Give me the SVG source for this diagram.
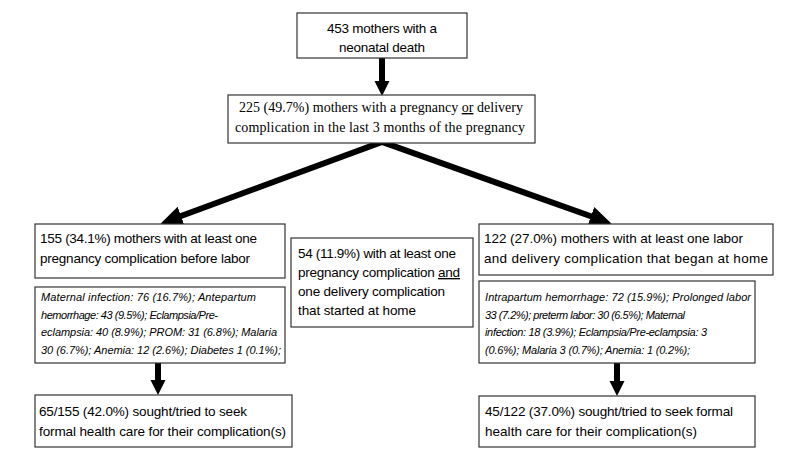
<svg xmlns="http://www.w3.org/2000/svg" width="788" height="462" viewBox="0 0 788 462">
<style>
.box{fill:#fff;stroke:#333;stroke-width:1.2}
.t{font-family:"Liberation Sans",Arial,sans-serif;font-size:13.5px;fill:#000}
.ti{font-family:"Liberation Sans",Arial,sans-serif;font-size:11px;font-style:italic;fill:#000}
.ts{font-family:"Liberation Serif","Times New Roman",serif;font-size:14px;fill:#000}
.u{text-decoration:underline}
.c{fill:none;stroke:#000;stroke-width:6;stroke-linejoin:miter;stroke-miterlimit:10}
.cv{fill:none;stroke:#000;stroke-width:6}
</style>
<defs>
<marker id="ah" markerUnits="userSpaceOnUse" markerWidth="22" markerHeight="22" viewBox="0 0 20 20" refX="2" refY="10" orient="auto-start-reverse">
<path d="M0,1 L20,10 L0,19 z" fill="#000"/>
</marker>
<marker id="av" markerUnits="userSpaceOnUse" markerWidth="16" markerHeight="16" viewBox="0 0 16 16" refX="1" refY="8" orient="auto">
<path d="M0,0.5 L15,8 L0,15.5 z" fill="#000"/>
</marker>
</defs>
<g id="connectors">
<path class="cv" d="M382,58 L382,82" marker-end="url(#av)"/>
<path class="c" d="M179,216.8 L382,142 L593,217" marker-start="url(#ah)" marker-end="url(#ah)"/>
<path class="cv" d="M158,363 L158,381" marker-end="url(#av)"/>
<path class="cv" d="M617,363 L617,382" marker-end="url(#av)"/>
</g>
<g id="n_total">
<rect class="box" x="297" y="13" width="170" height="45"/>
<text class="t" x="382" y="33" text-anchor="middle" textLength="110">453 mothers with a</text>
<text class="t" x="382" y="52" text-anchor="middle" textLength="86">neonatal death</text>
</g>
<g id="n_complication">
<rect class="box" x="228" y="95" width="307" height="48"/>
<text class="ts" x="239" y="112" textLength="284">225 (49.7%) mothers with a pregnancy <tspan class="u">or</tspan> delivery</text>
<text class="ts" x="235" y="132" textLength="290">complication in the last 3 months of the pregnancy</text>
</g>
<g id="n_pregnancy">
<rect class="box" x="35" y="224" width="250" height="54"/>
<text class="t" x="40" y="243" textLength="217">155 (34.1%) mothers with at least one</text>
<text class="t" x="40" y="263" textLength="210">pregnancy complication before labor</text>
</g>
<g id="n_both">
<rect class="box" x="291" y="238" width="182" height="89"/>
<text class="t" x="298" y="258" textLength="158">54 (11.9%) with at least one</text>
<text class="t" x="298" y="277" textLength="162">pregnancy complication <tspan class="u">and</tspan></text>
<text class="t" x="298" y="296" textLength="147">one delivery complication</text>
<text class="t" x="298" y="315" textLength="118">that started at home</text>
</g>
<g id="n_labor">
<rect class="box" x="479" y="224" width="294" height="51"/>
<text class="t" x="484" y="243" textLength="259">122 (27.0%) mothers with at least one labor</text>
<text class="t" x="484" y="263" textLength="284">and delivery complication that began at home</text>
</g>
<g id="n_pregnancy_detail">
<rect class="box" x="35" y="287" width="250" height="76"/>
<text class="ti" x="41" y="301" textLength="215">Maternal infection: 76 (16.7%); Antepartum</text>
<text class="ti" x="41" y="318.5" textLength="177">hemorrhage: 43 (9.5%); Eclampsia/Pre-</text>
<text class="ti" x="41" y="336" textLength="236">eclampsia: 40 (8.9%); PROM: 31 (6.8%); Malaria</text>
<text class="ti" x="41" y="353.5" textLength="240">30 (6.7%); Anemia: 12 (2.6%); Diabetes 1 (0.1%);</text>
</g>
<g id="n_labor_detail">
<rect class="box" x="479" y="281" width="276" height="82"/>
<text class="ti" x="485" y="301" textLength="266">Intrapartum hemorrhage: 72 (15.9%); Prolonged labor</text>
<text class="ti" x="485" y="318.5" textLength="200">33 (7.2%); preterm labor: 30 (6.5%); Maternal</text>
<text class="ti" x="485" y="336" textLength="222">infection: 18 (3.9%); Eclampsia/Pre-eclampsia: 3</text>
<text class="ti" x="485" y="353.5" textLength="205">(0.6%); Malaria 3 (0.7%); Anemia: 1 (0.2%);</text>
</g>
<g id="n_care_left">
<rect class="box" x="35" y="395" width="257" height="52"/>
<text class="t" x="39" y="416" textLength="208">65/155 (42.0%) sought/tried to seek</text>
<text class="t" x="39" y="436" textLength="247">formal health care for their complication(s)</text>
</g>
<g id="n_care_right">
<rect class="box" x="479" y="396" width="276" height="51"/>
<text class="t" x="485" y="416" textLength="248">45/122 (37.0%) sought/tried to seek formal</text>
<text class="t" x="485" y="436" textLength="212">health care for their complication(s)</text>
</g>
</svg>
